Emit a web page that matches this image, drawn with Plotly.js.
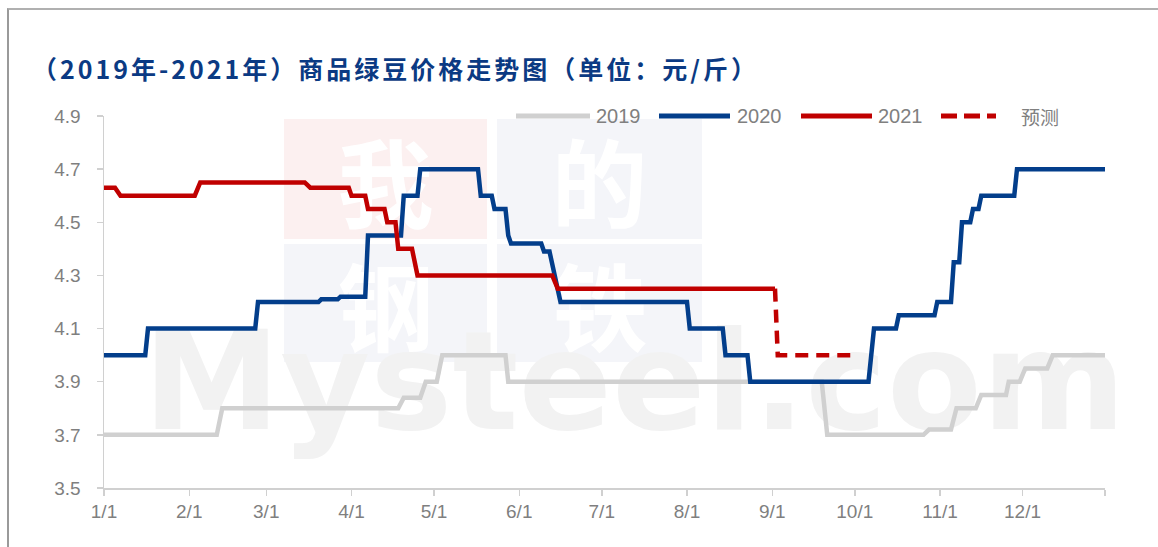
<!DOCTYPE html>
<html><head><meta charset="utf-8">
<script src="https://cdn.plot.ly/plotly-3.0.1.min.js"></script>
<style>
html,body{margin:0;padding:0;background:#fff;}
#wrap{position:relative;width:1158px;height:547px;overflow:hidden;background:#fff;}
#frame{position:absolute;left:7px;top:8px;width:1300px;height:700px;border-left:2px solid #9a9a9a;border-top:2px solid #b0b0b0;}
.blk{position:absolute;display:flex;align-items:center;justify-content:center;color:#fff;font-family:'Noto Sans CJK SC';font-weight:700;font-size:96px;line-height:1;}
#mys{position:absolute;left:143px;top:313px;font-family:'DejaVu Sans';font-weight:bold;font-size:138px;color:#f2f2f2;white-space:nowrap;line-height:1;}
#plot{position:absolute;left:0;top:0;width:1158px;height:547px;}
#plot .gtitle{letter-spacing:3px;}
</style></head>
<body>
<div id="wrap">
  <div id="frame"></div>
  <div class="blk" style="left:284px;top:119px;width:203px;height:120px;background:#fcf0f0;">我</div>
  <div class="blk" style="left:497px;top:119px;width:205px;height:120px;background:#f4f5f9;">的</div>
  <div class="blk" style="left:284px;top:244px;width:203px;height:118px;background:#f4f5f9;">钢</div>
  <div class="blk" style="left:497px;top:244px;width:205px;height:118px;background:#f4f5f9;">铁</div>
  <div id="mys">Mysteel.com</div>
  <div id="plot"></div>
</div>
<script>
// ---- data (month-day of each point, price in 元/斤) ----
const dates2019 = ['01-01','02-11','02-13','04-18','04-20','04-26','04-28','05-02','05-04','05-27','05-28','09-19','09-21','10-26','10-28','11-05','11-07','11-14','11-16','11-25','11-26','11-30','12-02','12-10','12-12','12-31'];
const values2019 = [3.7,3.7,3.8,3.8,3.84,3.84,3.9,3.9,4.0,4.0,3.9,3.9,3.7,3.7,3.72,3.72,3.8,3.8,3.85,3.85,3.9,3.9,3.95,3.95,4.0,4.0];

const dates2020 = ['01-01','01-16','01-17','02-25','02-26','03-20','03-21','03-27','03-28','04-06','04-07','04-19','04-20','04-25','04-26','05-17','05-18','05-22','05-23','05-27','05-28','05-29','06-09','06-10','06-12','06-14','06-16','08-01','08-02','08-14','08-15','08-23','08-24','10-06','10-07','10-08','10-16','10-17','10-30','10-31','11-05','11-06','11-08','11-09','11-12','11-13','11-15','11-16','11-28','11-29','12-31'];
const values2020 = [4.0,4.0,4.1,4.1,4.2,4.2,4.21,4.21,4.22,4.22,4.45,4.45,4.6,4.6,4.7,4.7,4.6,4.6,4.55,4.55,4.45,4.42,4.42,4.39,4.39,4.3,4.2,4.2,4.1,4.1,4.0,4.0,3.9,3.9,4.0,4.1,4.1,4.15,4.15,4.2,4.2,4.35,4.35,4.5,4.5,4.55,4.55,4.6,4.6,4.7,4.7];

const dates2021 = ['01-01','01-05','01-07','02-03','02-05','03-15','03-17','03-31','04-01','04-06','04-07','04-13','04-14','04-17','04-18','04-23','04-25','06-13','06-15','09-02'];
const values2021 = [4.63,4.63,4.6,4.6,4.65,4.65,4.63,4.63,4.6,4.6,4.55,4.55,4.5,4.5,4.4,4.4,4.3,4.3,4.25,4.25];

const datesForecast = ['09-02','09-03','10-01'];
const valuesForecast = [4.25,4.0,4.0];

const seriesNames = ['2019','2020','2021','预测'];
const seriesColors = ['#d0d0d0','#033e8b','#c00000','#c00000'];

const tickDates = ['01-01','02-01','03-01','04-01','05-01','06-01','07-01','08-01','09-01','10-01','11-01','12-01','12-31'];
const tickLabels = ['1/1','2/1','3/1','4/1','5/1','6/1','7/1','8/1','9/1','10/1','11/1','12/1',''];
const yTicks = [3.5,3.7,3.9,4.1,4.3,4.5,4.7,4.9];

const titleText = '（2019年-2021年）商品绿豆价格走势图（单位：元/斤）';

// ---- build ----
const toDate = md => '2021-' + md;
const W = 1158, H = 547, L = 104, R = 53, T = 116, B = 59;
const pw = W - L - R, ph = H - T - B;
const px = x => (x - L) / pw;
const py = y => (H - B - y) / ph;

const mk = (d, v, i, dash) => ({
  x: d.map(toDate), y: v, type: 'scatter', mode: 'lines', name: seriesNames[i],
  line: {color: seriesColors[i], width: 4.5, dash: dash || 'solid'}, hoverinfo: 'skip'
});
const traces = [
  mk(dates2019, values2019, 0),
  mk(dates2020, values2020, 1),
  mk(dates2021, values2021, 2),
  mk(datesForecast, valuesForecast, 3, '13px,8px')
];

// manual legend
const legendPos = [
  {x0: 516, x1: 590, tx: 595, dash: 'solid'},
  {x0: 659, x1: 730, tx: 736, dash: 'solid'},
  {x0: 801, x1: 872, tx: 877, dash: 'solid'},
  {x0: 941, x1: 996, tx: 1020, dash: '16px,7px'}
];
const legY = 116;
const shapes = [], annotations = [];
legendPos.forEach((p, i) => {
  shapes.push({type: 'line', xref: 'paper', yref: 'paper', x0: px(p.x0), x1: px(p.x1), y0: py(legY), y1: py(legY),
    line: {color: seriesColors[i], width: 5, dash: p.dash}});
  annotations.push({xref: 'paper', yref: 'paper', x: px(p.tx), y: py(legY), xanchor: 'left', yanchor: 'middle',
    text: seriesNames[i], showarrow: false, borderpad: 0,
    font: {family: i === 3 ? 'Noto Sans CJK SC' : 'Liberation Sans', size: i === 3 ? 19 : 20, color: '#808080'}});
});

const layout = {
  width: W, height: H,
  margin: {l: L, r: R, t: T, b: B, pad: 0},
  paper_bgcolor: 'rgba(0,0,0,0)', plot_bgcolor: 'rgba(0,0,0,0)',
  showlegend: false,
  title: {text: titleText, xref: 'container', yref: 'container', x: 32 / W, xanchor: 'left', y: 1 - 70 / H, yanchor: 'middle',
    font: {family: 'Liberation Sans Narrow, Noto Sans CJK SC', size: 25, color: '#0b3a83', weight: 'bold'}},
  xaxis: {type: 'date', range: [toDate('01-01'), toDate('12-31')], tickmode: 'array', tickvals: tickDates.map(toDate), ticktext: tickLabels,
    ticks: 'outside', ticklen: 6, tickwidth: 1.5, tickcolor: '#d0d0d0', showline: true, linecolor: '#d0d0d0', linewidth: 1.5,
    showgrid: false, zeroline: false, ticklabelstandoff: 0,
    tickfont: {family: 'Liberation Sans Narrow, Liberation Sans', size: 19, color: '#7f7f7f'}},
  yaxis: {range: [3.5, 4.9], tickmode: 'array', tickvals: yTicks, tickformat: '.1f',
    ticks: 'outside', ticklen: 6, tickwidth: 1.5, tickcolor: '#d0d0d0', showline: true, linecolor: '#d0d0d0', linewidth: 1.5,
    showgrid: false, zeroline: false, ticklabelstandoff: 12,
    tickfont: {family: 'Liberation Sans', size: 19, color: '#7f7f7f'}},
  shapes: shapes, annotations: annotations
};
Plotly.newPlot('plot', traces, layout, {displayModeBar: false, staticPlot: true});
</script>
</body></html>
